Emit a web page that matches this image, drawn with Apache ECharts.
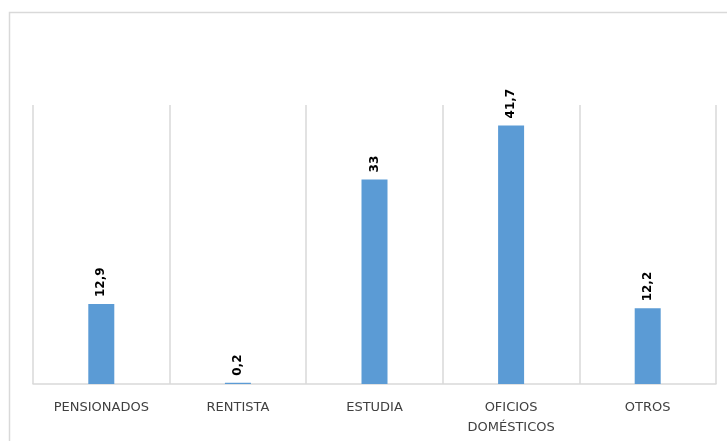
<!DOCTYPE html>
<html>
<head>
<meta charset="utf-8">
<script src="https://cdn.jsdelivr.net/npm/echarts@6/dist/echarts.min.js"></script>
<style>html,body{margin:0;padding:0;background:#fff}#c{width:727px;height:441px}</style>
</head>
<body>
<div id="c"></div>
<script>
const categories = ['PENSIONADOS', 'RENTISTA', 'ESTUDIA', 'OFICIOS\nDOMÉSTICOS', 'OTROS'];
const values = [12.9, 0.2, 33, 41.7, 12.2];

const chart = echarts.init(document.getElementById('c'), null, {renderer: 'canvas'});
chart.setOption({
  animation: false,
  backgroundColor: '#ffffff',
  graphic: [{
    type: 'rect', left: 7, top: 10, silent: true,
    shape: {width: 740, height: 450},
    style: {fill: 'none', stroke: '#d9d9d9', lineWidth: 1.5}
  }],
  grid: {left: 33, right: 11, top: 105, bottom: 57, containLabel: false},
  xAxis: {
    type: 'category',
    data: categories,
    boundaryGap: true,
    axisLine: {show: true, lineStyle: {color: '#d9d9d9', width: 1.5}},
    axisTick: {show: false},
    splitLine: {show: true, lineStyle: {color: '#d9d9d9', width: 1.5}},
    axisLabel: {
      interval: 0, color: '#404040', fontSize: 13,
      fontFamily: 'DejaVu Sans', margin: 14, lineHeight: 20
    }
  },
  yAxis: {
    type: 'value', min: 0, max: 45, interval: 5,
    show: false, splitLine: {show: false}
  },
  series: [{
    type: 'bar',
    data: values,
    barWidth: 26,
    itemStyle: {color: '#5b9bd5'},
    label: {
      show: true, position: 'top', rotate: 90, distance: 7,
      align: 'left', verticalAlign: 'middle',
      color: '#000', fontWeight: 'bold', fontSize: 12,
      fontFamily: 'DejaVu Sans',
      formatter: p => String(p.value).replace('.', ',')
    }
  }]
});
</script>
</body>
</html>
